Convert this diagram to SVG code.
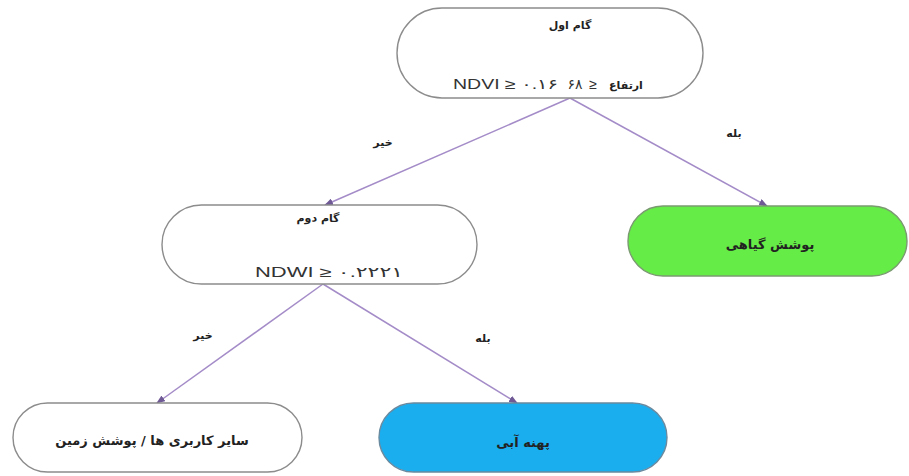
<svg xmlns="http://www.w3.org/2000/svg" width="909" height="476" viewBox="0 0 909 476">
<style>
.pill{fill:#ffffff;stroke:#8c8c8c;stroke-width:1.4}
.green{fill:#66ec46;stroke:#7a9a70;stroke-width:1.4}
.blue{fill:#1aaeef;stroke:#6a8aa0;stroke-width:1.4}
.f{font-family:"DejaVu Sans","Noto Sans",sans-serif;font-size:11px;fill:#222;font-weight:bold;text-anchor:middle}
.l{font-family:"DejaVu Sans","Noto Sans",sans-serif;font-size:13px;fill:#222;font-weight:bold;text-anchor:middle}
.m{font-family:"Liberation Sans","DejaVu Sans",sans-serif;font-size:14px;fill:#333}
.c{stroke:#a48cc8;stroke-width:1.5;fill:none;marker-end:url(#ah)}
</style>
<defs>
<marker id="ah" markerWidth="9" markerHeight="7" refX="8" refY="3.5" orient="auto" markerUnits="userSpaceOnUse">
<path d="M0,0 L9,3.5 L0,7 Z" fill="#6f5a96"/>
</marker>
</defs>
<g id="connectors">
<line class="c" x1="570" y1="98" x2="325" y2="205"/>
<line class="c" x1="570" y1="98" x2="767" y2="206"/>
<line class="c" x1="323" y1="284" x2="157" y2="403"/>
<line class="c" x1="323" y1="284" x2="517" y2="403"/>
<text class="f" x="383" y="146" direction="rtl">خیر</text>
<text class="f" x="734" y="137" direction="rtl">بله</text>
<text class="f" x="203" y="339" direction="rtl">خیر</text>
<text class="f" x="483" y="342" direction="rtl">بله</text>
</g>
<g id="step1">
<rect class="pill" x="397" y="8" width="306" height="90" rx="45"/>
<text class="f" x="570" y="29" direction="rtl">گام اول</text>
<text class="m" x="453" y="89" textLength="105" lengthAdjust="spacingAndGlyphs">NDVI ≥ ۰.۱۶</text>
<text class="m" x="575" y="89" text-anchor="middle">۶۸</text>
<text class="m" x="593" y="89" text-anchor="middle">≥</text>
<text class="f" x="626" y="89" direction="rtl">ارتفاع</text>
</g>
<g id="step2">
<rect class="pill" x="162" y="205" width="315" height="79" rx="39.5"/>
<text class="f" x="318" y="222" direction="rtl">گام دوم</text>
<text class="m" x="255" y="277" textLength="148" lengthAdjust="spacingAndGlyphs">NDWI ≥ ۰.۲۲۲۱</text>
</g>
<g id="vegetation">
<rect class="green" x="628" y="206" width="279" height="70" rx="35"/>
<text class="l" x="770" y="249" direction="rtl">پوشش گیاهی</text>
</g>
<g id="other">
<rect class="pill" x="13" y="403" width="289" height="69" rx="34.5"/>
<text class="l" x="152" y="445" direction="rtl">سایر کاربری ها / پوشش زمین</text>
</g>
<g id="water">
<rect class="blue" x="379" y="403" width="288" height="69" rx="34.5"/>
<text class="l" x="523" y="447" direction="rtl">پهنه آبی</text>
</g>
</svg>
